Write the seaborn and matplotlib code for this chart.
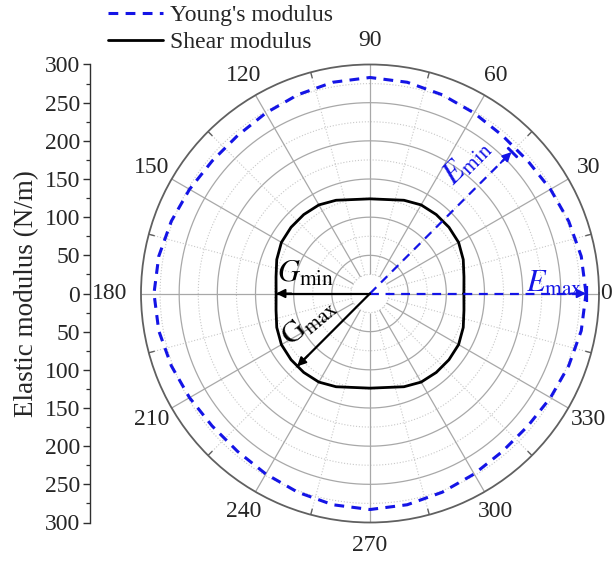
import numpy as np
import pandas as pd
import matplotlib
matplotlib.use("Agg")
import matplotlib.pyplot as plt
from matplotlib.lines import Line2D
import seaborn as sns

# Direction of loading (degrees) and the elastic moduli along it (N/m)
angle_deg = [0, 10, 20, 30, 40, 50, 60, 70, 80,
             90, 100, 110, 120, 130, 140, 150, 160, 170,
             180, 190, 200, 210, 220, 230, 240, 250, 260,
             270, 280, 290, 300, 310, 320, 330, 340, 350, 360]
young_modulus = [283, 281, 277, 273, 270, 270, 273, 277, 281,
                 283, 281, 277, 273, 270, 270, 273, 277, 281,
                 283, 281, 277, 273, 270, 270, 273, 277, 281,
                 283, 281, 277, 273, 270, 270, 273, 277, 281, 283]
shear_modulus = [123, 125, 130, 134, 135, 135, 134, 130, 125,
                 124, 125, 130, 134, 135, 135, 134, 130, 125,
                 123, 125, 130, 134, 135, 135, 134, 130, 125,
                 124, 125, 130, 134, 135, 135, 134, 130, 125, 123]

angle_ticks = [0, 30, 60, 90, 120, 150, 180, 210, 240, 270, 300, 330]
radial_ticks = [-300, -250, -200, -150, -100, -50, 0, 50, 100, 150, 200, 250, 300]

# Extremes marked by arrows: (direction in degrees, modulus)
e_max = (0, 283)
e_min = (45, 262)
g_min = (180, 123)
g_max = (225, 135)

sns.set_theme(style="white")
plt.rcParams["font.family"] = ["Liberation Serif", "DejaVu Serif"]
plt.rcParams["mathtext.fontset"] = "stix"

BLUE = "#1414e6"
GRID_MAJOR = "#a8a8a8"
GRID_MINOR = "#c8c8c8"
FS = 17

df = pd.DataFrame({
    "theta": np.radians(angle_deg),
    "young": young_modulus,
    "shear": shear_modulus,
})

W, H = 613, 563
fig = plt.figure(figsize=(W / 100, H / 100), dpi=100)
fig.patch.set_facecolor("white")

# polar panel: centre (370, 293), radius 229 px
cx, cy, rad = 370, 293.5, 229
ax = fig.add_axes([(cx - rad) / W, (H - cy - rad) / H, 2 * rad / W, 2 * rad / H],
                  projection="polar")
ax.set_ylim(0, 300)
ax.set_xticks([])
ax.set_yticks([])
ax.grid(False)
ax.spines["polar"].set_color("#606060")
ax.spines["polar"].set_linewidth(1.3)

# grid: solid circles every 50, dotted every 25; spokes every 30 / 15 degrees
full = np.linspace(0, 2 * np.pi, 721)
for r in range(50, 300, 50):
    ax.plot(full, np.full_like(full, r), color=GRID_MAJOR, lw=0.9, zorder=1)
for r in range(25, 300, 50):
    ax.plot(full, np.full_like(full, r), color=GRID_MINOR, lw=0.8, ls=":", zorder=1)
ax.vlines(np.radians(np.arange(0, 360, 30)), 25, 300, color=GRID_MAJOR, lw=0.9, zorder=1)
ax.vlines(np.radians(np.arange(15, 360, 30)), 25, 300, color=GRID_MINOR, lw=0.8,
          linestyles=":", zorder=1)
ax.vlines(np.radians(np.arange(15, 360, 30)), 292, 300, color="#606060", lw=1.0, zorder=2)

# moduli curves
sns.lineplot(data=df, x="theta", y="young", sort=False, ax=ax, color=BLUE, lw=2.2,
             linestyle=(0, (3.2, 2.4)), zorder=4)
sns.lineplot(data=df, x="theta", y="shear", sort=False, ax=ax, color="black", lw=2.0,
             zorder=4)
ax.set_xlabel("")
ax.set_ylabel("")

# arrows to the extremes
def ray_arrow(direction, value, color, dashed):
    t = np.radians(direction)
    ax.plot([t, t], [0, value], color=color, lw=1.6,
            ls=(0, (4, 3)) if dashed else "-", zorder=5)
    ax.annotate("", xy=(t, value), xytext=(t, value - 20),
                arrowprops=dict(arrowstyle="-|>", color=color, lw=1.4,
                                mutation_scale=13, shrinkA=0, shrinkB=0),
                zorder=6)

ray_arrow(*e_max, BLUE, True)
ray_arrow(*e_min, BLUE, True)
ray_arrow(*g_min, "black", False)
ray_arrow(*g_max, "black", False)
ax.plot(np.radians(e_max[0]), e_max[1] + 1, marker="|", ms=12, mew=1.6, color=BLUE, zorder=6)
ax.plot(np.radians(e_min[0]), e_min[1] + 1, marker=(2, 2, 45), ms=10, mew=1.8, color=BLUE, zorder=6)

ax.text(np.radians(3), 242, r"$E_{\rm max}$", color=BLUE, fontsize=22,
        ha="center", va="center", zorder=7)
ax.text(np.radians(53.5), 214, r"$E_{\rm min}$", color=BLUE, fontsize=22, rotation=45,
        ha="center", va="center", zorder=7)
ax.text(np.radians(163), 88, r"$G_{\rm min}$", color="black", fontsize=22,
        ha="center", va="center", zorder=7)
ax.text(np.radians(205), 88, r"$\mathrm{G}_{\rm max}$", color="black", fontsize=22,
        rotation=40, ha="center", va="center", zorder=7)

# angle labels around the rim
for a in angle_ticks:
    t = np.radians(a)
    if a == 0:
        ax.text(t, 302, str(a), ha="left", va="center", fontsize=FS, clip_on=False)
    elif a == 180:
        ax.text(t, 318, str(a), ha="right", va="center", fontsize=FS, clip_on=False)
    elif a == 90:
        ax.text(t, 318, str(a), ha="center", va="bottom", fontsize=FS, clip_on=False)
    elif a == 270:
        ax.text(t, 316, str(a), ha="center", va="top", fontsize=FS, clip_on=False)
    else:
        ax.text(t, 330, str(a), ha="center", va="center", fontsize=FS, clip_on=False)

# radial scale drawn as a separate vertical axis on the left
lax = fig.add_axes([90 / W, (H - cy - rad) / H, 0.0001, 2 * rad / H])
lax.patch.set_alpha(0)
lax.set_ylim(-300, 300)
lax.set_xticks([])
for s in ("top", "right", "bottom"):
    lax.spines[s].set_visible(False)
lax.spines["left"].set_color("#303030")
lax.spines["left"].set_linewidth(1.0)
lax.set_yticks(radial_ticks)
lax.set_yticklabels([str(abs(v)) for v in radial_ticks], fontsize=FS)
lax.set_yticks(np.arange(-275, 300, 50), minor=True)
lax.tick_params(axis="y", which="major", direction="out", length=5, width=1.0,
                left=True, color="#303030", pad=2)
lax.tick_params(axis="y", which="minor", direction="out", length=3, width=0.9,
                left=True, color="#303030")
lax.set_ylabel("Elastic modulus (N/m)", fontsize=19.5, labelpad=4)

handles = [
    Line2D([], [], color=BLUE, lw=2.2, ls=(0, (3.2, 2.4))),
    Line2D([], [], color="black", lw=2.0),
]
fig.legend(handles, ["Young's modulus", "Shear modulus"], loc="upper left",
           bbox_to_anchor=(99 / W, 1.008), frameon=False, fontsize=FS,
           handlelength=2.3, handletextpad=0.3, labelspacing=0.22, borderaxespad=0)

fig.savefig("out.png", dpi=100, facecolor="white")
